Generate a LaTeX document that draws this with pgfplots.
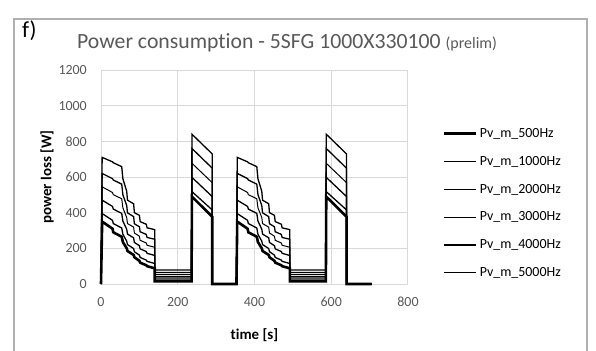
\documentclass[border=0pt]{standalone}
\usepackage{pgfplots}
\pgfplotsset{compat=1.18}
\usepackage{fontspec}
\setmainfont{Carlito}[Ligatures={NoCommon}]
\definecolor{tickgray}{HTML}{595959}
\definecolor{gridgray}{HTML}{D9D9D9}
\definecolor{framegray}{HTML}{B0B0B0}
\begin{document}
\begin{tikzpicture}
\path[use as bounding box] (0bp,0bp) rectangle (596bp,-351bp);
\clip (0bp,0bp) rectangle (596bp,-351bp);
\fill[white] (0bp,0bp) rectangle (596bp,-351bp);
\draw[framegray, line width=1.5bp] (14bp,-19bp) rectangle (587bp,-400bp);
\node[anchor=north west, inner sep=0pt, font=\fontsize{23}{25}\selectfont] at (22bp,-21bp) {f)};
\node[anchor=base west, inner sep=0pt, text=tickgray] at (77bp,-48bp) {\fontsize{21.8}{24}\selectfont Power consumption - 5SFG 1000X330100 \fontsize{16}{18}\selectfont(prelim)};
\begin{axis}[
  at={(101bp,-284bp)}, anchor=south west,
  scale only axis, width=307bp, height=214bp,
  xmin=0, xmax=800, ymin=0, ymax=1200,
  xtick={0,200,...,800}, ytick={0,200,...,1200},
  grid=major, major grid style={gridgray, line width=1bp},
  axis line style={gridgray, line width=1bp},
  tick style={draw=none},
  /pgf/number format/assume math mode=true,
  /pgf/number format/set thousands separator={},
  tick label style={font=\fontsize{14}{16}\selectfont, text=tickgray, inner sep=0pt},
  xticklabel style={yshift=-13bp},
  yticklabel style={xshift=-14bp},
  xlabel={time [s]}, ylabel={power loss [W]},
  label style={font=\bfseries\fontsize{15}{17}\selectfont},
  xlabel style={at={(axis description cs:0.5,-0.238)}, anchor=center},
  ylabel style={at={(axis description cs:-0.176,0.5)}, anchor=center},
  legend image code/.code={\draw[#1] (0bp,0bp) -- (32bp,0bp);},
  legend style={at={(axis description cs:1.114,0.738)}, anchor=north west, draw=none, fill=none,
    font=\fontsize{14}{16}\selectfont, row sep=13.3bp, inner sep=0pt,
    nodes={inner sep=2bp}},
  legend cell align=left,
  clip=false,
]
\addplot[black, line width=2.6bp] coordinates {(0,0)(3,350)(30,310)(32,290)(54,265)(57,235)(67,200)(69,185)(85,163)(87,150)(100,130)(102,120)(118,105)(120,100)(140,88)(140,15)(236,15)(237,490)(290,377)(290,0)(353,0)(355,350)(382,310)(384,290)(406,265)(409,235)(419,200)(421,185)(437,163)(439,150)(452,130)(454,120)(470,105)(472,100)(492,88)(492,15)(586,15)(587,490)(640,377)(640,0)(705,0)};
\addlegendentry{Pv\_m\_500Hz}
\addplot[black, line width=1.3bp] coordinates {(0,0)(3,395)(30,357)(32,339)(54,314)(57,279)(67,240)(69,221)(85,199)(87,181)(100,162)(102,149)(118,134)(120,127)(140,115)(140,28)(236,28)(237,518)(290,415)(290,0)(353,0)(355,395)(382,357)(384,339)(406,314)(409,279)(419,240)(421,221)(437,199)(439,181)(452,162)(454,149)(470,134)(472,127)(492,115)(492,28)(586,28)(587,518)(640,415)(640,0)(705,0)};
\addlegendentry{Pv\_m\_1000Hz}
\addplot[black, line width=1.3bp] coordinates {(0,0)(3,470)(30,435)(32,420)(54,396)(57,353)(67,307)(69,280)(85,259)(87,233)(100,215)(102,197)(118,182)(120,172)(140,160)(140,40)(236,40)(237,598)(290,490)(290,0)(353,0)(355,470)(382,435)(384,420)(406,396)(409,353)(419,307)(421,280)(437,259)(439,233)(452,215)(454,197)(470,182)(472,172)(492,160)(492,40)(586,40)(587,598)(640,490)(640,0)(705,0)};
\addlegendentry{Pv\_m\_2000Hz}
\addplot[black, line width=1.0bp] coordinates {(0,0)(3,545)(30,513)(32,501)(54,478)(57,427)(67,373)(69,339)(85,319)(87,286)(100,268)(102,245)(118,230)(120,217)(140,206)(140,52)(236,52)(237,677)(290,568)(290,0)(353,0)(355,545)(382,513)(384,501)(406,478)(409,427)(419,373)(421,339)(437,319)(439,286)(452,268)(454,245)(470,230)(472,217)(492,206)(492,52)(586,52)(587,677)(640,568)(640,0)(705,0)};
\addlegendentry{Pv\_m\_3000Hz}
\addplot[black, line width=1.3bp] coordinates {(0,0)(3,620)(30,591)(32,583)(54,560)(57,501)(67,440)(69,399)(85,378)(87,338)(100,321)(102,293)(118,278)(120,261)(140,251)(140,65)(236,65)(237,760)(290,649)(290,0)(353,0)(355,620)(382,591)(384,583)(406,560)(409,501)(419,440)(421,399)(437,378)(439,338)(452,321)(454,293)(470,278)(472,261)(492,251)(492,65)(586,65)(587,760)(640,649)(640,0)(705,0)};
\addlegendentry{Pv\_m\_4000Hz}
\addplot[black, line width=1.3bp] coordinates {(0,0)(3,710)(30,685)(32,680)(54,658)(57,590)(67,520)(69,470)(85,450)(87,400)(100,385)(102,350)(118,335)(120,315)(140,305)(140,78)(236,78)(237,840)(290,729)(290,0)(353,0)(355,710)(382,685)(384,680)(406,658)(409,590)(419,520)(421,470)(437,450)(439,400)(452,385)(454,350)(470,335)(472,315)(492,305)(492,78)(586,78)(587,840)(640,729)(640,0)(705,0)};
\addlegendentry{Pv\_m\_5000Hz}
\end{axis}
\end{tikzpicture}
\end{document}
